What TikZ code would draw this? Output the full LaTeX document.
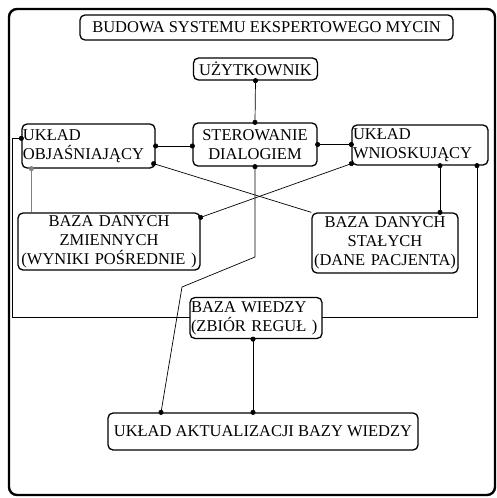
\documentclass[tikz,border=0pt]{standalone}
\usepackage{fontspec}
\setmainfont{Liberation Serif}
\usetikzlibrary{arrows.meta, positioning}

\begin{document}
\begin{tikzpicture}[x=1pt, y=-1pt, font=\fontsize{16.5}{19}\selectfont,
    box/.style={draw, line width=1.3pt, rounded corners=5pt, fill=white, inner xsep=1pt, inner ysep=0pt},
    link/.style={line width=0.7pt, {Circle[length=5pt]}-{Circle[length=5pt]}, shorten <=-2.5pt, shorten >=-2.5pt},
    linkA/.style={line width=0.7pt, {Circle[length=5pt]}-, shorten <=-2.5pt}]
    \useasboundingbox (0,0) rectangle (496,498);
    \draw[line width=2.4pt, rounded corners=8pt] (9,9) rectangle (495,495);
    \node[box, minimum width=373pt, minimum height=25pt] (title) at (266.5,27.5) {BUDOWA SYSTEMU EKSPERTOWEGO MYCIN};
    \node[box, minimum width=124pt, minimum height=22pt] (user) at (255.5,69) {UŻYTKOWNIK};
    \node[box, text width=122pt, align=center, minimum height=43pt] (ster) at (255,144.5) {STEROWANIE\\DIALOGIEM};
    \node[box, text width=131pt, align=left, minimum height=44pt] (objas) at (88.5,146) {UKŁAD\\OBJAŚNIAJĄCY};
    \node[box, text width=134pt, align=left, minimum height=40pt] (wnio) at (420,145) {UKŁAD\\WNIOSKUJĄCY};
    \node[box, text width=180pt, align=center, minimum height=57pt] (zmien) at (109,241.5) {BAZA DANYCH\\ZMIENNYCH\\(WYNIKI POŚREDNIE )};
    \node[box, text width=144pt, align=center, minimum height=60pt] (stal) at (385,243) {BAZA DANYCH\\STAŁYCH\\(DANE PACJENTA)};
    \node[box, minimum width=310pt, minimum height=37pt] (aktual) at (263,431.5) {UKŁAD AKTUALIZACJI BAZY WIEDZY};
    \draw[link] (user.south) -- (ster.north);
    \draw[link] (objas.east) -- (objas.east -| ster.west);
    \draw[link] (ster.east) -- (ster.east -| wnio.west);
    \draw[linkA] ([xshift=-2pt,yshift=5pt]objas.south east) -- (stal.north west);
    \draw[link] ([yshift=-5pt]zmien.north east) -- ([yshift=2pt]wnio.south west);
    \draw[linkA, gray] ([xshift=14pt]zmien.north west |- objas.south) -- ([xshift=14pt]zmien.north west);
    \draw[link] ([xshift=55pt]stal.north |- wnio.south) -- ([xshift=55pt]stal.north);
    \coordinate (rbend) at (477,317);
    \draw[link] ([yshift=-15pt]objas.north west) -- ++(-9pt,0) |- (rbend) -- (rbend |- wnio.south);
    \coordinate (k1) at (255,257);
    \coordinate (k2) at (182,287);
    \draw[link] (ster.south) -- (k1) -- (k2) -- ([xshift=-102pt]aktual.north);
    \node[box, text width=130pt, align=left, minimum height=41pt] (wiedza) at (256,318) {BAZA WIEDZY\\(ZBIÓR REGUŁ )};
    \draw[link] ([xshift=-3pt]wiedza.south) -- ([xshift=-3pt]wiedza.south |- aktual.north);
\end{tikzpicture}
\end{document}
